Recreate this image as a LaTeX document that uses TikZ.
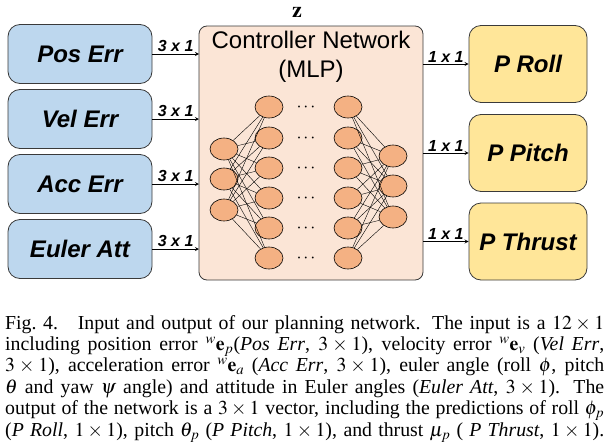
\documentclass[tikz,border=0pt]{standalone}
\usepackage{mathptmx}
\usepackage{fontspec}
\setmainfont{Liberation Serif}
\setsansfont{Liberation Sans}
\usetikzlibrary{arrows,positioning,shapes.geometric}

\definecolor{inblue}{HTML}{BDD7EE}
\definecolor{ctrlpeach}{HTML}{FBE5D6}
\definecolor{neuron}{HTML}{F4B183}
\definecolor{outyellow}{HTML}{FFE699}
\definecolor{edgegray}{HTML}{3A3A3A}

\tikzset{
  inbox/.style={draw=edgegray, fill=inblue, rounded corners=12pt, line width=0.8pt,
    minimum width=144pt, minimum height=59pt, font=\sffamily\bfseries\itshape\fontsize{24}{26}\selectfont},
  outbox/.style={draw=edgegray, fill=outyellow, rounded corners=12pt, line width=0.8pt,
    minimum width=118pt, minimum height=77pt, font=\sffamily\bfseries\itshape\fontsize{24}{26}\selectfont},
  unit/.style={ellipse, draw=black, fill=neuron, line width=0.6pt,
    minimum width=28pt, minimum height=22pt, inner sep=0pt},
  dimlabel/.style={above, inner sep=1.5pt, font=\sffamily\bfseries\itshape\fontsize{16}{18}\selectfont},
  flow/.style={->, line width=0.8pt}
}

\begin{document}
\begin{tikzpicture}[>=stealth, x=1pt, y=1pt]
  \useasboundingbox (0,0) rectangle (615,-447);

  % controller
  \draw [draw=edgegray, fill=ctrlpeach, rounded corners=8pt, line width=0.8pt]
    (199,-26) rectangle (423,-280);
  \coordinate (ctrlw) at (199,0);
  \coordinate (ctrle) at (423,0);
  \node (title) at (311,-57) [align=center, font=\sffamily\fontsize{24}{29}\selectfont]
    {Controller Network\\(MLP)};
  \node (z) at (297,-12) [font=\fontsize{22}{22}\selectfont] {$\mathbf{z}$};

  % inputs
  \node (pos) at (80,-54) [inbox] {Pos Err};
  \node (vel) at (80,-119) [inbox] {Vel Err};
  \node (acc) at (80,-184) [inbox] {Acc Err};
  \node (eul) at (80,-249) [inbox] {Euler Att};

  % outputs
  \node (roll) at (528,-64) [outbox] {P Roll};
  \node (pitch) at (528,-153) [outbox] {P Pitch};
  \node (thrust) at (528,-241.5) [outbox] {P Thrust};

  \foreach \src in {pos,vel,acc,eul}
    \draw [flow] (\src.east) -- (\src.east -| ctrlw) node [dimlabel, midway] {3 x 1};
  \foreach \dst in {roll,pitch,thrust}
    \draw [flow] (\dst.west -| ctrle) -- (\dst.west) node [dimlabel, midway] {1 x 1};

  % network
  \foreach \i/\y in {1/149,2/179,3/210}
    \node (in\i) at (224,-\y) [unit] {};
  \foreach \i/\y in {1/156,2/186,3/217}
    \node (out\i) at (393,-\y) [unit] {};
  \foreach \i/\y in {1/107,2/138,3/168,4/198,5/228,6/258} {
    \node (ha\i) at (269,-\y) [unit] {};
    \node (hb\i) at (348,-\y) [unit] {};
    \node (dots\i) at (306,-\y-1) [font=\fontsize{18}{18}\selectfont] {$\cdots$};
  }
  \foreach \i in {1,2,3}
    \foreach \j in {1,...,6} {
      \draw [line width=0.4pt] (in\i) -- (ha\j);
      \draw [line width=0.4pt] (hb\j) -- (out\i);
    }

  % caption
  \node (caption) at (5,-315) [anchor=north west, inner sep=0pt, text width=599pt,
      align=justify, font=\fontsize{19.8}{21.4}\selectfont] {%
    Fig.~4.\quad Input and output of our planning network. The input is a $12\times1$\linebreak
    including position error ${}^{w}\mathbf{e}_p$(\textit{Pos Err}, $3\times1$), velocity error ${}^{w}\mathbf{e}_v$ (\textit{Vel Err},\linebreak
    $3\times1$), acceleration error ${}^{w}\mathbf{e}_a$ (\textit{Acc Err}, $3\times1$), euler angle (roll $\phi$, pitch\linebreak
    $\theta$ and yaw $\psi$ angle) and attitude in Euler angles (\textit{Euler Att}, $3\times1$). The\linebreak
    output of the network is a $3\times1$ vector, including the predictions of roll $\phi_p$\linebreak
    (\textit{P Roll}, $1\times1$), pitch $\theta_p$ (\textit{P Pitch}, $1\times1$), and thrust $\mu_p$ ( \textit{P Thrust}, $1\times1$).\parfillskip=0pt\par};
\end{tikzpicture}
\end{document}
